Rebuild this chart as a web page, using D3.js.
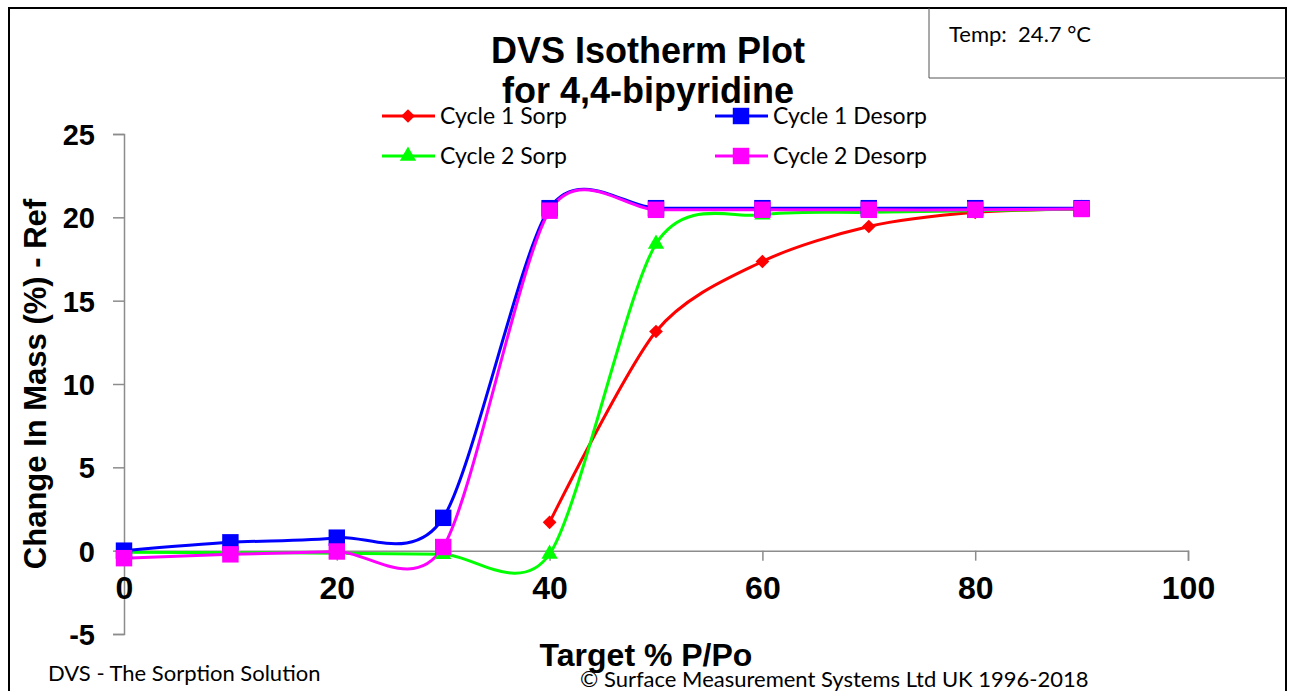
<!DOCTYPE html>
<meta charset="utf-8">
<style>
body { margin: 0; background: #fff; }
svg { display: block; }
text { white-space: pre; }
</style>
<svg width="1293" height="691"></svg>
<script src="https://cdn.jsdelivr.net/npm/d3@7"></script>
<script>
// data
var ppo = [0, 10, 20, 30, 40, 50, 60, 70, 80, 90]
var c1Sorp = [null, null, null, null, 1.7, 13.15, 17.35, 19.45, 20.3, 20.5]
var c1Desorp = [0.0, 0.5, 0.78, 1.97, 20.55, 20.55, 20.55, 20.55, 20.55, 20.55]
var c2Sorp = [-0.1, -0.12, -0.15, -0.22, -0.2, 18.4, 20.15, 20.3, 20.4, 20.5]
var c2Desorp = [-0.45, -0.22, -0.05, 0.22, 20.4, 20.45, 20.45, 20.45, 20.45, 20.5]
var xTicks = [0, 20, 40, 60, 80, 100]
var yTicks = [-5, 0, 5, 10, 15, 20, 25]

var series = [
  {name: "Cycle 1 Sorp", vals: c1Sorp, color: "#ff0000", sym: d3.symbolDiamond2, size: 120},
  {name: "Cycle 2 Sorp", vals: c2Sorp, color: "#00ff00", sym: d3.symbolTriangle, size: 115},
  {name: "Cycle 1 Desorp", vals: c1Desorp, color: "#0000ff", sym: d3.symbolSquare, size: 270},
  {name: "Cycle 2 Desorp", vals: c2Desorp, color: "#ff00ff", sym: d3.symbolSquare, size: 270}
]

var arial = "'Liberation Sans', Arial, sans-serif"
var calibri = "Lato, 'Open Sans', sans-serif"

var svg = d3.select("svg")
var x = d3.scaleLinear().domain([0, 100]).range([124, 1188])
var y = d3.scaleLinear().domain([-5, 25]).range([634, 134])

// frame + temp box
svg.append("path").attr("d", "M9,691V8H1286V691").attr("fill", "none").attr("stroke", "#000").attr("stroke-width", 2)
svg.append("path").attr("d", "M929,8V78H1286").attr("fill", "none").attr("stroke", "#555").attr("stroke-width", 1)
svg.append("text").attr("x", 949).attr("y", 42).text("Temp:  24.7 °C")
  .attr("font-family", calibri).attr("font-size", 22)

// title
var title = svg.append("text").attr("text-anchor", "middle")
  .attr("font-family", arial).attr("font-weight", "bold").attr("font-size", 36)
title.append("tspan").attr("x", 648).attr("y", 63).text("DVS Isotherm Plot")
title.append("tspan").attr("x", 648).attr("y", 103).text("for 4,4-bipyridine")

// axes
var yAxis = svg.append("g").attr("transform", "translate(124,0)")
  .call(d3.axisLeft(y).tickValues(yTicks).tickSize(11).tickPadding(18).tickFormat(String))
var xAxis = svg.append("g").attr("transform", "translate(0," + y(0) + ")")
  .call(d3.axisBottom(x).tickValues(xTicks).tickSize(10).tickPadding(16).tickFormat(String))
svg.selectAll(".domain, .tick line").attr("stroke", "#8c8c8c").attr("stroke-width", 1.5)
yAxis.selectAll(".tick text").attr("dy", "0.36em")
  .attr("font-family", arial).attr("font-weight", "bold").attr("font-size", 29)
xAxis.selectAll(".tick text")
  .attr("font-family", arial).attr("font-weight", "bold").attr("font-size", 32)

svg.append("text").attr("transform", "translate(46,384) rotate(-90)").attr("text-anchor", "middle")
  .attr("font-family", arial).attr("font-weight", "bold").attr("font-size", 31)
  .text("Change In Mass (%) - Ref")
svg.append("text").attr("x", 646).attr("y", 666).attr("text-anchor", "middle")
  .attr("font-family", arial).attr("font-weight", "bold").attr("font-size", 32)
  .text("Target % P/Po")

svg.append("text").attr("x", 48).attr("y", 681).text("DVS - The Sorption Solution")
  .attr("font-family", calibri).attr("font-size", 22)
svg.append("text").attr("x", 580).attr("y", 687).text("© Surface Measurement Systems Ltd UK 1996-2018")
  .attr("font-family", calibri).attr("font-size", 22)

// lines + markers (Excel-like smoothing)
var line = d3.line()
  .defined(function(d) { return d[1] !== null })
  .x(function(d) { return x(d[0]) })
  .y(function(d) { return y(d[1]) })
  .curve(d3.curveCardinal.tension(0.17))

series.forEach(function(s) {
  var pts = ppo.map(function(p, i) { return [p, s.vals[i]] })
  svg.append("path").datum(pts).attr("d", line)
    .attr("fill", "none").attr("stroke", s.color).attr("stroke-width", 3)
})
series.forEach(function(s) {
  var pts = ppo.map(function(p, i) { return [p, s.vals[i]] }).filter(function(d) { return d[1] !== null })
  svg.append("g").selectAll("path").data(pts).enter().append("path")
    .attr("d", d3.symbol().type(s.sym).size(s.size))
    .attr("transform", function(d) { return "translate(" + x(d[0]) + "," + y(d[1]) + ")" })
    .attr("fill", s.color)
})

// legend
var legPos = [[382, 116], [715, 116], [382, 156], [715, 156]]
var legOrder = [0, 2, 1, 3]
legOrder.forEach(function(si, k) {
  var s = series[si], p = legPos[k]
  var g = svg.append("g").attr("transform", "translate(" + p[0] + "," + p[1] + ")")
  g.append("line").attr("x1", 0).attr("x2", 53).attr("stroke", s.color).attr("stroke-width", 3)
  g.append("path").attr("d", d3.symbol().type(s.sym).size(s.size))
    .attr("transform", "translate(26,0)")
    .attr("fill", s.color)
  g.append("text").attr("x", 58).attr("y", 8).text(s.name)
    .attr("font-family", calibri).attr("font-size", 23)
})
</script>
